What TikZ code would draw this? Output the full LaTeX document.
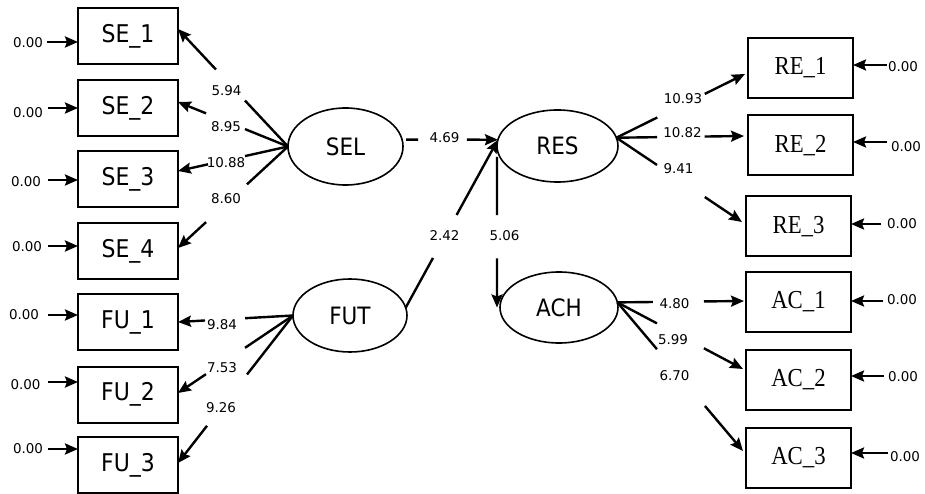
\documentclass[tikz,border=0pt]{standalone}
\usepackage{fontspec}
\setmainfont{DejaVu Sans}
\newfontfamily\boxsans[FakeStretch=0.9]{DejaVu Sans}
\newfontfamily\boxserif[FakeStretch=0.88]{Liberation Serif}
\usetikzlibrary{arrows.meta,calc,shapes.geometric}
\newcommand\gapline[4]{\draw[conn] (#1) -- ($(#1)!#3!(#2)$) ($(#1)!#4!(#2)$) -- (#2);}
\begin{document}
\begin{tikzpicture}[x=1bp,y=-1bp,
  lbox/.style={draw, line width=2bp, minimum width=100bp, minimum height=56bp, inner sep=0pt, outer sep=0pt, font=\boxsans\fontsize{24.5}{24.5}\selectfont},
  rbox/.style={draw, line width=2bp, minimum width=105bp, minimum height=60bp, inner sep=0pt, outer sep=0pt, font=\boxserif\fontsize{26}{26}\selectfont},
  lat/.style={draw, ellipse, line width=1.6bp, inner sep=0pt, outer sep=0pt, font=\boxsans\fontsize{24}{24}\selectfont},
  num/.style={font=\fontsize{13.5}{13.5}\selectfont, inner sep=0pt},
  conn/.style={line width=2.4bp, -{Stealth[length=13bp,width=11bp,inset=2bp]}},
]
\useasboundingbox (0,0) rectangle (925,494);

% observed variables, left
\node[lbox] (SE1) at (128,36) {SE\_1};
\node[lbox] (SE2) at (128,108.5) {SE\_2};
\node[lbox] (SE3) at (128,179.5) {SE\_3};
\node[lbox] (SE4) at (128,251.5) {SE\_4};
\node[lbox] (FU1) at (128,322) {FU\_1};
\node[lbox] (FU2) at (128,394.5) {FU\_2};
\node[lbox] (FU3) at (128,465) {FU\_3};

% observed variables, right
\node[rbox] (RE1) at (800.5,68) {RE\_1};
\node[rbox] (RE2) at (800.5,145.5) {RE\_2};
\node[rbox] (RE3) at (798.5,226.5) {RE\_3};
\node[rbox] (AC1) at (798.5,302) {AC\_1};
\node[rbox] (AC2) at (798.5,380) {AC\_2};
\node[rbox] (AC3) at (798.5,457.5) {AC\_3};

% latent variables
\node[lat, minimum width=115bp, minimum height=77bp] (SEL) at (345.5,146.5) {SEL};
\node[lat, minimum width=121bp, minimum height=72bp] (RES) at (557.5,146) {RES};
\node[lat, minimum width=114bp, minimum height=73bp] (FUT) at (350,315.5) {FUT};
\node[lat, minimum width=118bp, minimum height=71bp] (ACH) at (559,307.5) {ACH};

% end points
\coordinate (selw) at (SEL.west);
\coordinate (futw) at (FUT.west);
\coordinate (rese) at (RES.8);
\coordinate (ache) at (ACH.5);
\coordinate (t1) at ([yshift=7bp]SE1.east);
\coordinate (t2) at ([yshift=6.5bp]SE2.east);
\coordinate (t3) at ([yshift=8.5bp]SE3.east);
\coordinate (t4) at ([yshift=3.5bp]SE4.east);
\coordinate (u1) at (FU1.east);
\coordinate (u2) at ([yshift=1.5bp]FU2.east);
\coordinate (u3) at ([yshift=2bp]FU3.east);
\coordinate (r1) at ([xshift=-3bp,yshift=-6bp]RE1.west);
\coordinate (r2) at ([xshift=-4bp,yshift=9.5bp]RE2.west);
\coordinate (r3) at ([xshift=-4bp,yshift=4.5bp]RE3.west);
\coordinate (a1) at ([xshift=-2bp,yshift=1bp]AC1.west);
\coordinate (a2) at ([xshift=-3bp,yshift=11bp]AC2.west);
\coordinate (a3) at ([xshift=-3bp,yshift=6.5bp]AC3.west);
\coordinate (s0) at ([xshift=4bp]SEL.7);
\coordinate (resw) at (RES.174);
\coordinate (f0) at (FUT.8);
\coordinate (v0) at ([yshift=-11bp]RES.west);
\coordinate (v1) at (v0 |- ACH.west);

% loadings
\gapline{selw}{t1}{0.391}{0.655}
\gapline{selw}{t2}{0.391}{0.745}
\gapline{selw}{t3}{0.391}{0.727}
\gapline{selw}{t4}{0.373}{0.745}
\gapline{futw}{u1}{0.417}{0.765}
\gapline{futw}{u2}{0.417}{0.757}
\gapline{futw}{u3}{0.400}{0.748}
\gapline{rese}{r1}{0.318}{0.687}
\gapline{rese}{r2}{0.320}{0.692}
\gapline{rese}{r3}{0.323}{0.704}
\gapline{ache}{a1}{0.281}{0.684}
\gapline{ache}{a2}{0.315}{0.689}
\gapline{ache}{a3}{0.315}{0.697}
% structural paths
\gapline{s0}{resw}{0.130}{0.663}
\gapline{f0}{resw}{0.296}{0.552}
\gapline{v0}{v1}{0.387}{0.673}

% path labels
\node[num] (l1) at (226.5,90.5) {5.94};
\node[num] (l2) at (226,126.5) {8.95};
\node[num] (l3) at (226,163) {10.88};
\node[num] (l4) at (226,199) {8.60};
\node[num] (l5) at (222,325) {9.84};
\node[num] (l6) at (222,367.5) {7.53};
\node[num] (l7) at (221,408) {9.26};
\node[num] (l8) at (444.5,138) {4.69};
\node[num] (l9) at (444.5,236) {2.42};
\node[num] (l10) at (504.5,236) {5.06};
\node[num] (l11) at (683,98.5) {10.93};
\node[num] (l12) at (682.5,133) {10.82};
\node[num] (l13) at (678.5,168.5) {9.41};
\node[num] (l14) at (674.5,303.5) {4.80};
\node[num] (l15) at (673,340) {5.99};
\node[num] (l16) at (674.5,376) {6.70};

% error terms, left
\node[num] (z1) at (28,43) {0.00};
\node[num] (z2) at (28,113) {0.00};
\node[num] (z3) at (26,182) {0.00};
\node[num] (z4) at (27,247) {0.00};
\node[num] (z5) at (24,315) {0.00};
\node[num] (z6) at (25.5,385) {0.00};
\node[num] (z7) at (28,449) {0.00};
\coordinate (i1) at (47,42);
\coordinate (i2) at (48,108);
\coordinate (i3) at (48,180);
\coordinate (i4) at (48,246);
\coordinate (i5) at (48,315);
\coordinate (i6) at (48,382);
\coordinate (i7) at (48,449);
\draw[conn] (i1) -- (i1 -| SE1.west);
\draw[conn] (i2) -- (i2 -| SE2.west);
\draw[conn] (i3) -- (i3 -| SE3.west);
\draw[conn] (i4) -- (i4 -| SE4.west);
\draw[conn] (i5) -- (i5 -| FU1.west);
\draw[conn] (i6) -- (i6 -| FU2.west);
\draw[conn] (i7) -- (i7 -| FU3.west);

% error terms, right
\node[num] (y1) at (903,67) {0.00};
\node[num] (y2) at (906,147) {0.00};
\node[num] (y3) at (902,224) {0.00};
\node[num] (y4) at (902,300) {0.00};
\node[num] (y5) at (903,377) {0.00};
\node[num] (y6) at (905,457) {0.00};
\coordinate (j1) at (887,65);
\coordinate (j2) at (887,142);
\coordinate (j3) at (881,224);
\coordinate (j4) at (883,301);
\coordinate (j5) at (884,376);
\coordinate (j6) at (888,453);
\draw[conn] (j1) -- (j1 -| RE1.east);
\draw[conn] (j2) -- (j2 -| RE2.east);
\draw[conn] (j3) -- (j3 -| RE3.east);
\draw[conn] (j4) -- (j4 -| AC1.east);
\draw[conn] (j5) -- (j5 -| AC2.east);
\draw[conn] (j6) -- (j6 -| AC3.east);
\end{tikzpicture}
\end{document}
